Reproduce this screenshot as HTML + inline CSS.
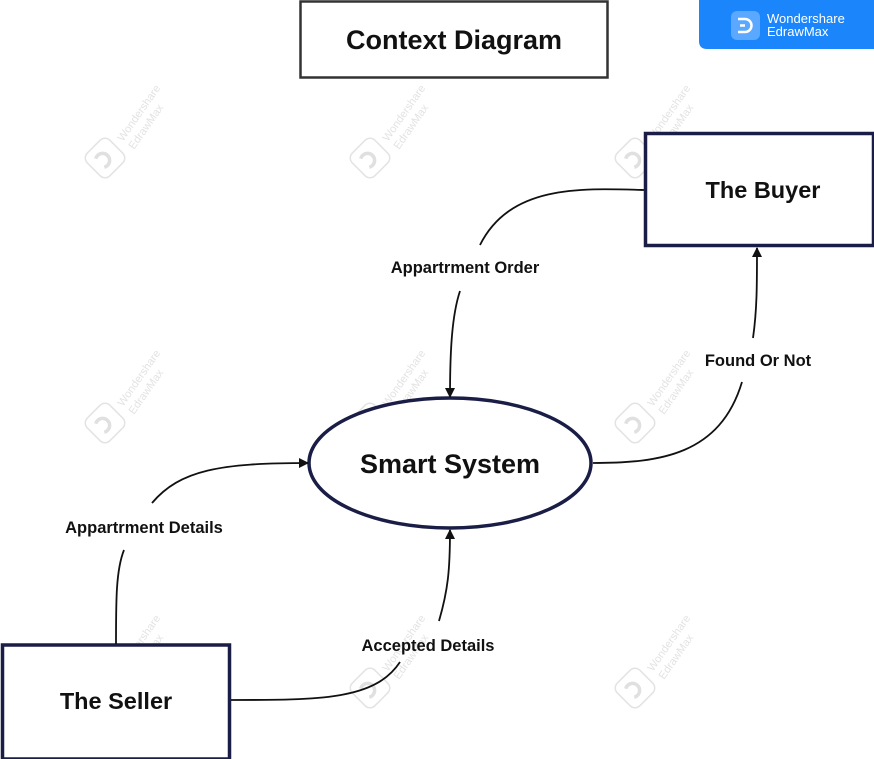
<!DOCTYPE html>
<html><head><meta charset="utf-8"><style>
html,body{margin:0;padding:0;background:#fff;}
svg{display:block;}
text{font-family:"Liberation Sans",Arial,sans-serif;}
</style></head><body>
<svg width="874" height="759" viewBox="0 0 874 759" xmlns="http://www.w3.org/2000/svg">
<defs>
<marker id="ar" markerWidth="10" markerHeight="10" refX="9" refY="5" orient="auto" markerUnits="userSpaceOnUse">
<path d="M0,0 L10,5 L0,10 Z" fill="#111"/></marker>
<g id="wm">
<rect x="-16" y="-16" width="32" height="32" rx="7" fill="none" stroke="#e3e3e3" stroke-width="1.5" transform="rotate(45)"/>
<path d="M-7,-6 A7,7 0 1 1 -7,6" fill="none" stroke="#e0e0e0" stroke-width="3.5" transform="rotate(-45)"/>
<text x="18" y="-16" font-size="11" fill="#e3e3e3" transform="rotate(-55 18 -16)">Wondershare</text>
<text x="29" y="-8" font-size="11" fill="#e3e3e3" transform="rotate(-55 29 -8)">EdrawMax</text>
</g>
</defs>
<use href="#wm" x="105" y="158"/><use href="#wm" x="370" y="158"/><use href="#wm" x="635" y="158"/>
<use href="#wm" x="105" y="423"/><use href="#wm" x="370" y="423"/><use href="#wm" x="635" y="423"/>
<use href="#wm" x="105" y="688"/><use href="#wm" x="370" y="688"/><use href="#wm" x="635" y="688"/>

<path d="M699,0 H874 V49 H707 Q699,49 699,41 Z" fill="#1b86fb"/>
<rect x="731" y="11" width="29" height="29" rx="6" fill="#5aa8ff"/>
<path d="M738,19 H745 A6.5,6.5 0 0 1 745,32 H738" fill="none" stroke="#fff" stroke-width="2.5"/>
<line x1="740" y1="25.5" x2="745" y2="25.5" stroke="#fff" stroke-width="2.5"/>
<text x="767" y="23" font-size="13" fill="#fff">Wondershare</text>
<text x="767" y="36" font-size="13" fill="#fff">EdrawMax</text>

<rect x="300.5" y="1.5" width="307" height="76" fill="#fff" stroke="#333" stroke-width="2.5"/>
<text x="454" y="49" font-size="27" font-weight="bold" text-anchor="middle" fill="#111">Context Diagram</text>

<rect x="645.5" y="133.5" width="228" height="112" fill="#fff" stroke="#1a1d45" stroke-width="3.5"/>
<text x="763" y="198" font-size="23.5" font-weight="bold" text-anchor="middle" fill="#111">The Buyer</text>

<rect x="2.5" y="645" width="227" height="114" fill="#fff" stroke="#1a1d45" stroke-width="3.5"/>
<text x="116" y="709" font-size="23.5" font-weight="bold" text-anchor="middle" fill="#111">The Seller</text>

<ellipse cx="450" cy="463" rx="141" ry="65" fill="#fff" stroke="#1a1d45" stroke-width="3.5"/>
<text x="450" y="473" font-size="27" font-weight="bold" text-anchor="middle" fill="#111">Smart System</text>

<g fill="none" stroke="#111" stroke-width="1.8">
<path d="M644,190 C580,188 510,185 480,245"/>
<path d="M460,291 C452,315 450,350 450,397" marker-end="url(#ar)"/>
<path d="M593,463 C660,463 720,455 742,382"/>
<path d="M753,338 C757,310 757,285 757,248" marker-end="url(#ar)"/>
<path d="M116,644 C116,600 116,570 124,550"/>
<path d="M152,503 C180,470 220,463 308,463" marker-end="url(#ar)"/>
<path d="M231,700 C320,700 375,700 400,662"/>
<path d="M439,621 C448,590 450,570 450,530" marker-end="url(#ar)"/>
</g>

<g font-size="16.5" font-weight="bold" fill="#111" text-anchor="middle">
<text x="465" y="273">Appartrment Order</text>
<text x="758" y="366">Found Or Not</text>
<text x="144" y="533">Appartrment Details</text>
<text x="428" y="651">Accepted Details</text>
</g>
</svg>
</body></html>
